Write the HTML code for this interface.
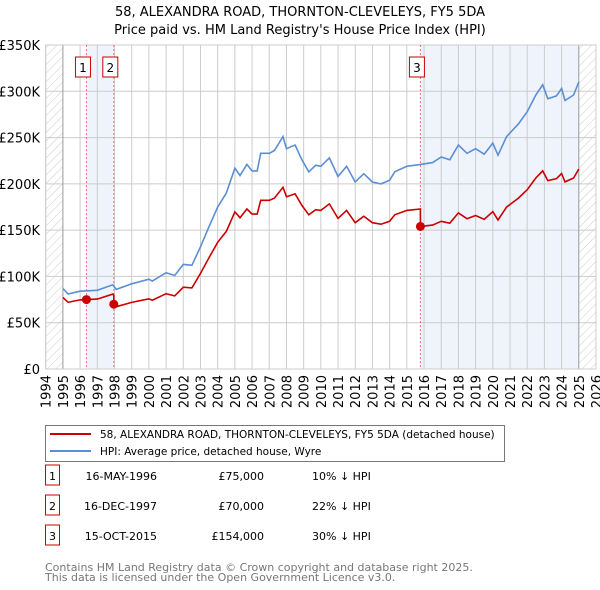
<!DOCTYPE html>
<html><head><meta charset="utf-8">
<style>
body{margin:0;background:#fff;font-family:"DejaVu Sans","Liberation Sans",sans-serif;}
#wrap{position:relative;width:600px;height:590px;overflow:hidden;}
svg text{font-family:"DejaVu Sans","Liberation Sans",sans-serif;}
</style></head>
<body><div id="wrap">
<svg id="chart" width="600" height="590"></svg>
</div>
<script>
const hpiYears=[1995.0,1995.3,1996.0,1997.0,1997.9,1998.1,1999.0,2000.0,2000.2,2001.0,2001.5,2002.0,2002.5,2003.0,2003.5,2004.0,2004.5,2005.0,2005.3,2005.7,2006.0,2006.3,2006.5,2007.0,2007.3,2007.8,2008.0,2008.5,2008.9,2009.3,2009.7,2010.0,2010.5,2011.0,2011.5,2012.0,2012.5,2013.0,2013.5,2014.0,2014.3,2015.0,2015.8,2016.5,2017.0,2017.5,2018.0,2018.5,2019.0,2019.5,2020.0,2020.3,2020.8,2021.5,2022.0,2022.5,2022.9,2023.2,2023.7,2024.0,2024.2,2024.7,2025.0];
const hpiValues=[87,81,84,85,91,86,92,97,95,104,101,113,112,132,154,175,190,217,209,221,214,214,233,233,236,251,238,242,226,213,220,219,228,208,219,202,211,202,200,204,213,219,221,223,229,226,242,233,238,232,244,231,251,265,278,296,307,292,295,303,290,296,310];
const saleYears=[1996.37,1997.96,2015.79];
const salePrices=[75,70,154];
const saleLabels=["1","2","3"];
const yTicks=[0,50,100,150,200,250,300,350];
const yTickLabels=["£0","£50K","£100K","£150K","£200K","£250K","£300K","£350K"];
const xTicks=[1994,1995,1996,1997,1998,1999,2000,2001,2002,2003,2004,2005,2006,2007,2008,2009,2010,2011,2012,2013,2014,2015,2016,2017,2018,2019,2020,2021,2022,2023,2024,2025,2026];

const L=45.7,R=596,T=45,B=369;
const X=y=>L+(y-1994)/(2026-1994)*(R-L);
const Y=v=>B-v/350*(B-T);
const NS="http://www.w3.org/2000/svg";
const svg=document.getElementById('chart');
function mk(tag,attrs,parent){const e=document.createElementNS(NS,tag);for(const k in attrs)e.setAttribute(k,attrs[k]);(parent||svg).appendChild(e);return e;}
function hpiAt(t){if(t<=hpiYears[0])return hpiValues[0];for(let i=1;i<hpiYears.length;i++){if(t<=hpiYears[i]){const f=(t-hpiYears[i-1])/(hpiYears[i]-hpiYears[i-1]);return hpiValues[i-1]+f*(hpiValues[i]-hpiValues[i-1]);}}return hpiValues[hpiValues.length-1];}

const defs=mk('defs',{});
const pat=mk('pattern',{id:'hatch',width:6,height:6,patternUnits:'userSpaceOnUse',patternTransform:'rotate(45)'},defs);
mk('line',{x1:0,y1:0,x2:0,y2:6,stroke:'#ccc','stroke-width':1},pat);

let s=mk('rect',{x:X(saleYears[0]),y:T,width:X(saleYears[1])-X(saleYears[0]),height:B-T,fill:'#eef3fc'});

s=mk('rect',{x:X(saleYears[2]),y:T,width:X(2025)-X(saleYears[2]),height:B-T,fill:'#eef3fc'});

s=mk('rect',{x:X(1994),y:T,width:X(1995)-X(1994),height:B-T,fill:'url(#hatch)'});

s=mk('rect',{x:X(2025),y:T,width:X(2026)-X(2025),height:B-T,fill:'url(#hatch)'});


yTicks.forEach((v,i)=>{
  const g=mk('line',{x1:L,x2:R,y1:Y(v),y2:Y(v),stroke:'#cccccc','stroke-width':1});
  
  const t=mk('text',{x:40,y:Y(v)+5,'text-anchor':'end','font-size':13,fill:'#000'});
  t.textContent=yTickLabels[i];
  
});
xTicks.forEach(yr=>{
  const g=mk('line',{x1:X(yr),x2:X(yr),y1:T,y2:B,stroke:(yr===1995||yr===2025)?'#999':'#cccccc','stroke-width':1});
  
  const t=mk('text',{x:0,y:0,'text-anchor':'end','font-size':13,fill:'#000',transform:`translate(${X(yr)+5},375) rotate(-90)`});
  t.textContent=yr;
  
});
const fr=mk('rect',{x:L,y:T,width:R-L,height:B-T,fill:'none',stroke:'#cccccc'});


saleYears.forEach((sy,i)=>{
  const l=mk('line',{x1:X(sy),x2:X(sy),y1:T,y2:B,stroke:'#f07070','stroke-width':1,'stroke-dasharray':'2,2'});
  
  const bx=mk('rect',{x:X(sy)-11,y:57,width:15,height:20,fill:'#fff',stroke:'#cc0000','stroke-width':1});
  
  const t=mk('text',{x:X(sy)-3.5,y:72,'text-anchor':'middle','font-size':12,fill:'#000'});
  t.textContent=saleLabels[i];
  
});

let d='';
hpiYears.forEach((yr,i)=>{d+=(i?'L':'M')+X(yr).toFixed(1)+','+Y(hpiValues[i]).toFixed(1);});
const hl=mk('path',{d:d,fill:'none',stroke:'#5b8fd4','stroke-width':1.6});


function factorAt(t){let k=0;for(let i=0;i<saleYears.length;i++){if(t>=saleYears[i])k=i;}return salePrices[k]/hpiAt(saleYears[k]);}
const pts=[];
const times=hpiYears.concat(saleYears).sort((a,b)=>a-b);
times.forEach(t=>{
  const idx=saleYears.indexOf(t);
  if(idx>0){pts.push([t,hpiAt(t)*salePrices[idx-1]/hpiAt(saleYears[idx-1])]);}
  pts.push([t,hpiAt(t)*factorAt(t)]);
});
let d2='';
pts.forEach((p,i)=>{d2+=(i?'L':'M')+X(p[0]).toFixed(1)+','+Y(p[1]).toFixed(1);});
const pl=mk('path',{d:d2,fill:'none',stroke:'#cc0000','stroke-width':1.6});

saleYears.forEach((sy,i)=>{
  const c=mk('circle',{cx:X(sy),cy:Y(salePrices[i]),r:4.5,fill:'#cc0000'});
  
});

let tt=mk('text',{x:300,y:16,'text-anchor':'middle','font-size':13,fill:'#000'});
tt.textContent='58, ALEXANDRA ROAD, THORNTON-CLEVELEYS, FY5 5DA';

tt=mk('text',{x:300,y:34,'text-anchor':'middle','font-size':13,fill:'#000'});
tt.textContent="Price paid vs. HM Land Registry's House Price Index (HPI)";


const lg=mk('g',{});

mk('rect',{x:45.5,y:425.5,width:459,height:36,fill:'#fff',stroke:'#777'},lg);
mk('line',{x1:50,x2:91,y1:434,y2:434,stroke:'#cc0000','stroke-width':2},lg);
mk('line',{x1:50,x2:91,y1:451,y2:451,stroke:'#5b8fd4','stroke-width':2},lg);
let lt=mk('text',{x:100,y:438,'font-size':10.5,fill:'#000'},lg);
lt.textContent='58, ALEXANDRA ROAD, THORNTON-CLEVELEYS, FY5 5DA (detached house)';

lt=mk('text',{x:100,y:455,'font-size':10.5,fill:'#000'},lg);
lt.textContent='HPI: Average price, detached house, Wyre';


const dates=['16-MAY-1996','16-DEC-1997','15-OCT-2015'];
const prices=['£75,000','£70,000','£154,000'];
const diffs=['10% ↓ HPI','22% ↓ HPI','30% ↓ HPI'];
[0,1,2].forEach(i=>{
  const y0=476+i*30;
  const g=mk('g',{});
  
  mk('rect',{x:45.5,y:y0-11,width:14,height:20,fill:'#fff',stroke:'#cc0000'},g);
  let t=mk('text',{x:52.5,y:y0+4,'text-anchor':'middle','font-size':11},g);t.textContent=saleLabels[i];
  t=mk('text',{x:157,y:y0+4,'text-anchor':'end','font-size':11},g);t.textContent=dates[i];
  t=mk('text',{x:264,y:y0+4,'text-anchor':'end','font-size':11},g);t.textContent=prices[i];
  t=mk('text',{x:312,y:y0+4,'font-size':11},g);t.textContent=diffs[i];
});
let ft=mk('text',{x:45,y:571,'font-size':11,fill:'#777'});
ft.textContent='Contains HM Land Registry data © Crown copyright and database right 2025.';

ft=mk('text',{x:45,y:581,'font-size':11,fill:'#777'});
ft.textContent='This data is licensed under the Open Government Licence v3.0.';

</script>
</body></html>
